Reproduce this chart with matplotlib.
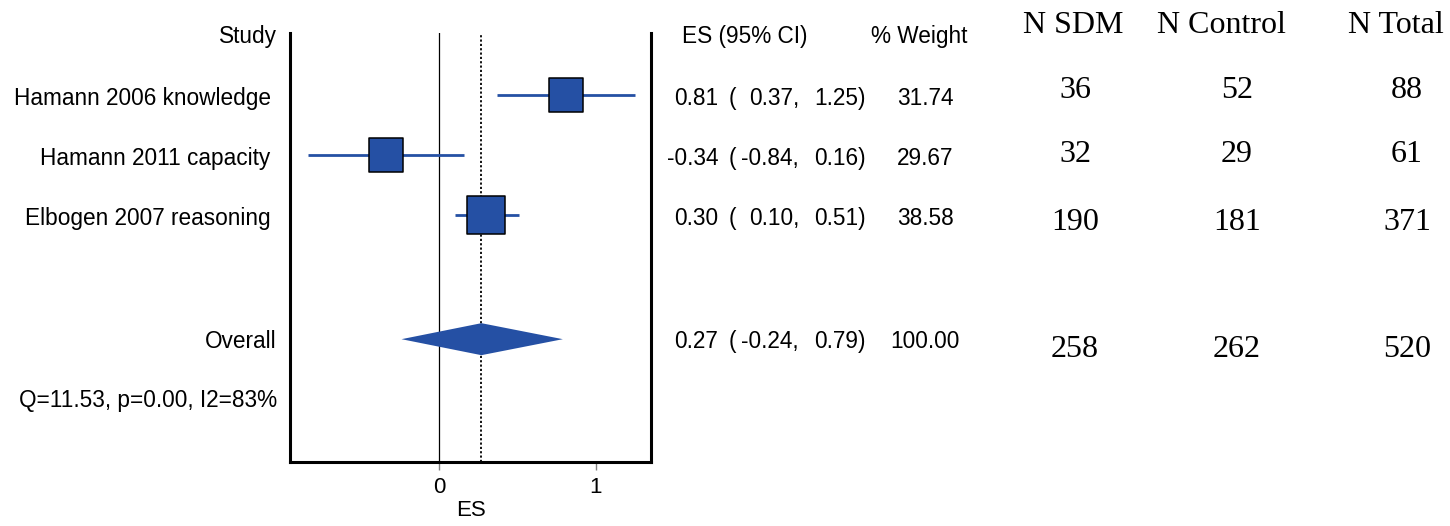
import matplotlib
matplotlib.use('Agg')
import matplotlib.pyplot as plt
from matplotlib import transforms
from matplotlib.patches import Polygon

# data
studies = ['Hamann 2006 knowledge', 'Hamann 2011 capacity', 'Elbogen 2007 reasoning']
es = [0.81, -0.34, 0.30]
ci_low = [0.37, -0.84, 0.10]
ci_high = [1.25, 0.16, 0.51]
weight = [31.74, 29.67, 38.58]
overall_es = 0.27
overall_low = -0.24
overall_high = 0.79
overall_weight = 100.00
heterogeneity = 'Q=11.53, p=0.00, I2=83%'

n_headers = ['N SDM', 'N Control', 'N Total']
n_sdm = [36, 32, 190, 258]
n_control = [52, 29, 181, 262]
n_total = [88, 61, 371, 520]

# layout (rows)
rows = [1, 2, 3]
overall_row = 5.07
het_row = 6.2
text_shift = 0.167          # baseline offset below the marker row
overall_shift = 0.147
n_rows = [-0.033, 1.05, 2.117, 3.25, 5.367]

W, H = 1450, 526
blue = '#2550a4'
sans = ['Liberation Sans', 'DejaVu Sans']
serif = ['Liberation Serif', 'DejaVu Serif']
fs = 16.3

fig = plt.figure(figsize=(W / 100, H / 100), dpi=100)
ax = fig.add_axes([290 / W, (H - 462) / H, 361 / W, 429 / H])
ax.set_xlim(-0.952, 1.353)
ax.set_ylim(7.117, -0.033)

ax.axvline(0, color='black', lw=0.9, zorder=1)
ax.axvline(overall_es, color='black', lw=1.3, ls=(0, (1.2, 1.2)), zorder=1)

# study estimates
for r, e, lo, hi, w in zip(rows, es, ci_low, ci_high, weight):
    ax.plot([lo, hi], [r, r], color=blue, lw=2.0, zorder=2, solid_capstyle='butt')
    ax.scatter([e], [r], s=20 * w, marker='s', color=blue, edgecolor='black',
               linewidth=1.1, zorder=3)

# overall diamond
h = 16 / 60
ax.add_patch(Polygon([(overall_low, overall_row), (overall_es, overall_row - h),
                      (overall_high, overall_row), (overall_es, overall_row + h)],
                     closed=True, facecolor=blue, edgecolor='none', zorder=3))

for s in ['left', 'right', 'bottom']:
    ax.spines[s].set_linewidth(2.2)
ax.spines['top'].set_visible(False)
ax.set_yticks([])
ax.set_xticks([0, 1])
ax.tick_params(axis='x', length=6, width=1, color='#808080', labelsize=16, pad=5)
for t in ax.get_xticklabels():
    t.set_family(sans)
ax.set_xlabel('ES', fontsize=16, family=sans, labelpad=1)

tr = transforms.blended_transform_factory(fig.transFigure, ax.transData)

def txt(px, y, s, ha='left', family=sans, size=fs):
    ax.text(px / W, y, s, transform=tr, ha=ha, va='baseline', family=family,
            fontsize=size, clip_on=False)

# left labels
txt(277, 0.133, 'Study', ha='right')
for r, name in zip(rows, studies):
    txt(277, r + text_shift, name + ' ', ha='right')
txt(277, overall_row + overall_shift, 'Overall', ha='right')
txt(277, het_row, heterogeneity, ha='right')

# ES and weight columns
txt(682, 0.133, 'ES (95% CI)')
txt(919, 0.133, '% Weight', ha='center')
for r, e, lo, hi, w, sh in zip(rows + [overall_row],
                               es + [overall_es], ci_low + [overall_low],
                               ci_high + [overall_high], weight + [overall_weight],
                               [text_shift] * 3 + [overall_shift]):
    y = r + sh
    txt(718, y, f'{e:.2f}', ha='right')
    txt(729, y, '(')
    txt(799, y, f'{lo:.2f},', ha='right')
    txt(866, y, f'{hi:.2f})', ha='right')
    txt(925, y, f'{w:.2f}', ha='center')

# N table
n_cols = [1073, 1221, 1396]
n_vals_cols = [1075, 1237, 1407]
for x, lab in zip(n_cols, n_headers):
    txt(x, n_rows[0], lab, ha='center', family=serif, size=23)
for x, vals in zip(n_vals_cols, [n_sdm, n_control, n_total]):
    for y, v in zip(n_rows[1:], vals):
        txt(x, y, str(v), ha='center', family=serif, size=23)

fig.savefig('out.png', dpi=100)
